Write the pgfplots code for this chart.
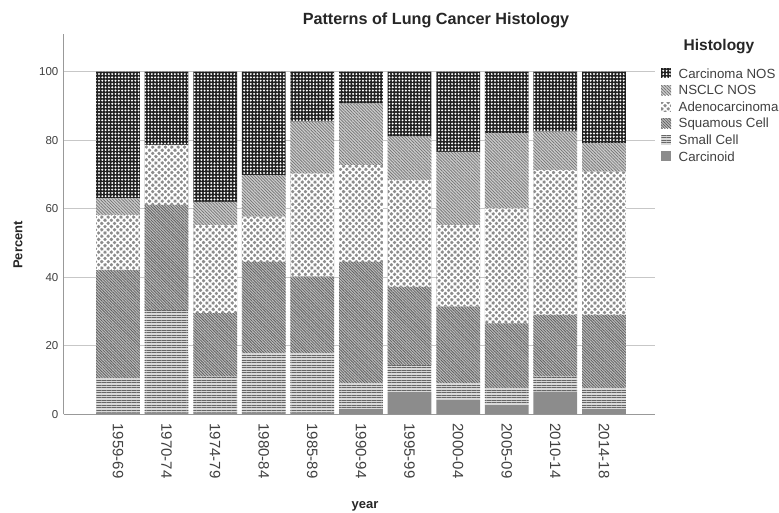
\documentclass[border=0pt]{standalone}
\usepackage{fontspec}
\setmainfont{Liberation Sans}
\usepackage{pgfplots}
\usepackage{pgfplotstable}
\pgfplotsset{compat=1.18}
\usetikzlibrary{patterns.meta}

% percent of cases in each period, bottom segment first
\pgfplotstableread{
x carcinoid small squamous adeno nsclc nos
0  0.5 10.0 31.6 16.1  4.8 37.0
1  0.5 29.9 30.7 17.5  0.0 21.4
2  0.5 10.5 18.5 25.7  6.8 38.0
3  0.5 17.3 26.7 13.2 12.1 30.2
4  0.5 17.3 22.4 30.1 15.1 14.6
5  1.5  7.5 35.5 28.2 18.0  9.3
6  6.5  7.9 22.8 31.2 12.6 19.0
7  4.2  4.8 22.4 23.8 21.4 23.4
8  2.7  4.9 18.9 33.6 21.9 18.0
9  6.6  4.4 18.0 42.3 11.2 17.5
10 1.5  6.1 21.4 41.8  8.3 20.9
}\histo

\begin{document}
\begin{tikzpicture}[x=1pt,y=1pt]
\useasboundingbox (0,0) rectangle (779,513);
\begin{axis}[
  at={(63.5pt,98.7pt)}, anchor=south west,
  scale only axis, width=591.5pt, height=380pt,
  ybar stacked, bar width=0.9,
  xmin=-1.12, xmax=11.05, ymin=0, ymax=110.9,
  axis x line*=bottom, axis y line*=left,
  axis line style={black!40, line width=0.8pt},
  xtick={0,...,10},
  xticklabels={1959-69,1970-74,1974-79,1980-84,1985-89,1990-94,1995-99,2000-04,2005-09,2010-14,2014-18},
  ytick={0,20,40,60,80,100},
  major tick length=0pt,
  ymajorgrids, major grid style={black!22, line width=0.6pt},
  tick label style={text=black!75},
  yticklabel style={font=\fontsize{11.5}{13}\selectfont, anchor=east, inner sep=0pt},
  yticklabel shift=5pt,
  xticklabel style={font=\fontsize{15}{17}\selectfont, rotate=-90, anchor=west, inner sep=0pt},
  xticklabel shift=9pt,
  /pgf/number format/assume math mode=true,
  legend image code/.code={\draw[#1, draw=none] (0pt,-5pt) rectangle (10pt,5pt);},
  reverse legend,
  legend cell align=left,
  legend style={at={(1.005,0.9166)}, anchor=north west, draw=none, fill=none,
    font=\fontsize{13.3}{15}\selectfont, text=black!75, row sep=6pt,
    nodes={inner xsep=7.5pt, inner ysep=0pt, text height=10pt, text depth=0.6pt}},
]
% Carcinoid
\addplot[fill=black!45, draw=none] table[x=x, y=carcinoid] {\histo};
\addlegendentry{Carcinoid}
% Small Cell
\addplot[fill=black!15, draw=none,
  postaction={pattern={Lines[angle=0, distance=2.5pt, line width=1pt]}, pattern color=black!60}]
  table[x=x, y=small] {\histo};
\addlegendentry{Small Cell}
% Squamous Cell
\addplot[fill=black!25, draw=none,
  postaction={pattern={Lines[angle=-45, distance=2pt, line width=0.8pt]}, pattern color=black!62}]
  table[x=x, y=squamous] {\histo};
\addlegendentry{Squamous Cell}
% Adenocarcinoma
\addplot[fill=black!45, draw=none,
  postaction={pattern={Hatch[angle=45, distance=4.5pt, line width=1.6pt]}, pattern color=white}]
  table[x=x, y=adeno] {\histo};
\addlegendentry{Adenocarcinoma}
% NSCLC NOS
\addplot[fill=black!20, draw=none,
  postaction={pattern={Lines[angle=-45, distance=2.2pt, line width=0.7pt]}, pattern color=black!55}]
  table[x=x, y=nsclc] {\histo};
\addlegendentry{NSCLC NOS}
% Carcinoma NOS
\addplot[fill=black!88, draw=none,
  postaction={pattern={Dots[radius=1.1pt, distance=3.3pt]}, pattern color=white}]
  table[x=x, y=nos] {\histo};
\addlegendentry{Carcinoma NOS}
\end{axis}
\node[font=\bfseries\fontsize{16.2}{19}\selectfont, text=black!85] at (436,493) {Patterns of Lung Cancer Histology};
\node[font=\bfseries\fontsize{13}{15}\selectfont, text=black!85, rotate=90] at (18,268) {Percent};
\node[font=\bfseries\fontsize{13}{15}\selectfont, text=black!85] at (365,7) {year};
\node[font=\bfseries\fontsize{15.5}{18}\selectfont, text=black!85] at (719,466) {Histology};
\end{tikzpicture}
\end{document}
